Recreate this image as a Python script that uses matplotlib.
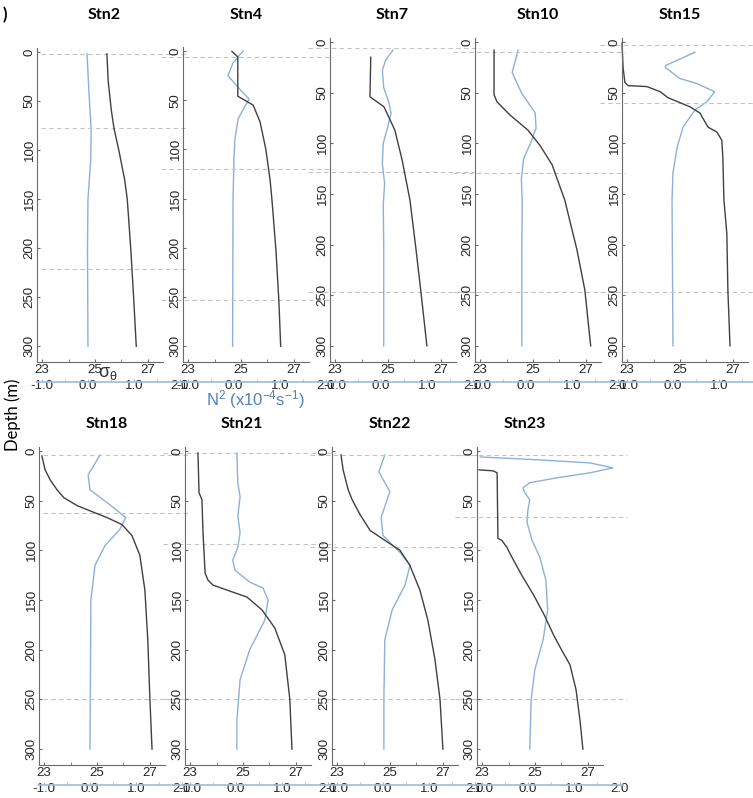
import matplotlib
matplotlib.use('Agg')
import matplotlib.pyplot as plt
from matplotlib.ticker import MultipleLocator, FormatStrFormatter
from matplotlib.transforms import blended_transform_factory

plt.rcParams['font.family'] = ['Liberation Sans', 'DejaVu Sans']
plt.rcParams['axes.unicode_minus'] = False
plt.rcParams['mathtext.default'] = 'regular'

stations = ['Stn2', 'Stn4', 'Stn7', 'Stn10', 'Stn15', 'Stn18', 'Stn21', 'Stn22', 'Stn23']

# sigma-theta profiles: depth (m) and sigma_theta
stn2_sz = [2, 30, 60, 78, 100, 130, 150, 200, 250, 300]
stn2_sig = [25.45, 25.5, 25.62, 25.72, 25.9, 26.12, 26.22, 26.35, 26.46, 26.56]
stn4_sz = [0.5, 6, 46, 55, 72, 100, 131, 151, 202, 253, 300]
stn4_sig = [24.66, 24.88, 24.88, 25.46, 25.72, 25.94, 26.1, 26.17, 26.32, 26.43, 26.5]
stn7_sz = [15, 54, 64, 87, 116, 156, 205, 255, 300]
stn7_sig = [24.35, 24.32, 24.85, 25.26, 25.53, 25.83, 26.06, 26.28, 26.47]
stn10_sz = [8, 52, 59, 72, 87, 102, 121, 156, 205, 245, 300]
stn10_sig = [23.53, 23.53, 23.64, 24.13, 24.81, 25.26, 25.72, 26.2, 26.66, 26.96, 27.18]
stn15_sz = [1, 25, 40, 43, 44, 49, 55, 64, 70, 84, 89, 97, 114, 156, 189, 245, 300]
stn15_sig = [22.81, 22.85, 22.92, 23.04, 23.75, 24.25, 24.55, 25.38, 25.75, 26.06, 26.4,
             26.58, 26.62, 26.66, 26.77, 26.81, 26.89]
stn18_sz = [5, 19, 29, 39, 47, 55, 61, 67, 74, 85, 105, 140, 190, 250, 300]
stn18_sig = [22.92, 23.04, 23.23, 23.49, 23.75, 24.25, 24.81, 25.38, 25.94, 26.32, 26.62,
             26.81, 26.92, 27.0, 27.08]
stn21_sz = [2, 42, 49, 82, 123, 130, 135, 140, 147, 160, 178, 205, 250, 300]
stn21_sig = [23.3, 23.34, 23.45, 23.49, 23.57, 23.68, 23.87, 24.4, 25.15, 25.72, 26.2,
             26.58, 26.77, 26.85]
stn22_sz = [4, 19, 39, 49, 64, 80, 90, 100, 115, 140, 170, 210, 250, 300]
stn22_sig = [23.15, 23.23, 23.42, 23.57, 23.87, 24.25, 24.81, 25.38, 25.75, 26.13, 26.43,
             26.7, 26.89, 27.0]
stn23_sz = [19, 20, 22, 88, 90, 97, 107, 125, 145, 165, 185, 200, 215, 240, 271, 300]
stn23_sig = [22.89, 23.42, 23.57, 23.6, 23.75, 23.94, 24.13, 24.5, 24.95, 25.35, 25.7,
             26.0, 26.32, 26.55, 26.7, 26.81]

# N2 profiles: depth (m) and N2 (x10^-4 s^-1)
stn2_nz = [2, 40, 80, 110, 130, 150, 200, 300]
stn2_n2 = [-0.02, 0.02, 0.07, 0.06, 0.03, 0.0, -0.01, 0.0]
stn4_nz = [0, 12, 25, 37, 49, 58, 69, 90, 110, 150, 300]
stn4_n2 = [0.2, -0.02, -0.13, 0.09, 0.33, 0.22, 0.09, 0.02, 0.0, -0.02, -0.03]
stn7_nz = [8, 18, 28, 45, 58, 70, 85, 100, 120, 140, 160, 200, 300]
stn7_n2 = [0.26, 0.1, 0.03, 0.06, 0.16, 0.22, 0.14, 0.05, 0.03, 0.08, 0.05, 0.06, 0.06]
stn10_nz = [8, 30, 50, 70, 85, 100, 115, 135, 160, 200, 300]
stn10_n2 = [-0.17, -0.3, -0.1, 0.2, 0.22, 0.1, -0.05, -0.1, -0.08, -0.09, -0.09]
stn15_nz = [10, 23, 25, 36, 41, 49, 59, 67, 84, 104, 129, 156, 300]
stn15_n2 = [0.48, -0.15, -0.17, 0.15, 0.52, 0.91, 0.74, 0.48, 0.22, 0.09, 0.0, -0.02, 0.0]
stn18_nz = [4, 24, 39, 54, 67, 79, 95, 115, 150, 300]
stn18_n2 = [0.22, -0.04, 0.0, 0.43, 0.78, 0.65, 0.33, 0.11, 0.02, 0.0]
stn21_nz = [2, 32, 46, 66, 82, 97, 110, 120, 132, 138, 150, 170, 200, 230, 271, 300]
stn21_n2 = [0.02, 0.04, 0.09, 0.04, 0.09, 0.04, -0.07, -0.02, 0.3, 0.59, 0.7, 0.63, 0.3,
            0.09, 0.02, 0.02]
stn22_nz = [4, 21, 41, 67, 85, 102, 115, 135, 160, 190, 250, 300]
stn22_n2 = [0.04, -0.09, 0.15, -0.04, 0.0, 0.37, 0.59, 0.48, 0.2, 0.04, 0.02, 0.02]
stn23_nz = [6, 9, 12, 17, 22, 27, 32, 37, 42, 49, 59, 72, 90, 107, 130, 160, 190, 220, 250, 300]
stn23_n2 = [-1.04, 0.26, 1.35, 1.85, 1.35, 0.63, 0.04, -0.11, -0.07, 0.04, 0.0, -0.02, 0.09,
            0.26, 0.39, 0.43, 0.33, 0.15, 0.07, 0.04]

# reference depths (dashed lines)
stn2_ref = [2, 78, 221]
stn4_ref = [6, 120, 253]
stn7_ref = [6, 128, 247]
stn10_ref = [10, 129, 247]
stn15_ref = [3, 60, 247]
stn18_ref = [4, 62, 250]
stn21_ref = [2, 94, 250]
stn22_ref = [4, 97, 250]
stn23_ref = [4, 66, 250]

sig_z = [stn2_sz, stn4_sz, stn7_sz, stn10_sz, stn15_sz, stn18_sz, stn21_sz, stn22_sz, stn23_sz]
sig = [stn2_sig, stn4_sig, stn7_sig, stn10_sig, stn15_sig, stn18_sig, stn21_sig, stn22_sig, stn23_sig]
n2_z = [stn2_nz, stn4_nz, stn7_nz, stn10_nz, stn15_nz, stn18_nz, stn21_nz, stn22_nz, stn23_nz]
n2 = [stn2_n2, stn4_n2, stn7_n2, stn10_n2, stn15_n2, stn18_n2, stn21_n2, stn22_n2, stn23_n2]
refs = [stn2_ref, stn4_ref, stn7_ref, stn10_ref, stn15_ref, stn18_ref, stn21_ref, stn22_ref, stn23_ref]

W, H = 753, 798
fig = plt.figure(figsize=(W / 100, H / 100), dpi=100)


def box(x0, y0, x1, y1):
    return [x0 / W, 1 - y1 / H, (x1 - x0) / W, (y1 - y0) / H]


lefts = [37, 183, 330, 475, 622, 39, 185, 332, 477]
tops = [48, 47, 38, 38, 38, 447, 447, 447, 447]
bots = [362] * 5 + [765] * 4
title_x = [104, 246, 392, 538, 680, 107, 242, 390, 525]
title_y = [15] * 5 + [424] * 4

black = '#404040'
blue = '#8DB0DB'
axblue = '#9DBBDF'
dash_c = '#C4C4C4'

for i, name in enumerate(stations):
    L, T, B = lefts[i], tops[i], bots[i]
    axn = fig.add_axes(box(L, T, L + 146, B))
    ax = fig.add_axes(box(L, T, L + 126, B), sharey=axn)

    # N2 axis (lower, blue)
    axn.patch.set_alpha(0)
    for s in ['top', 'right', 'left']:
        axn.spines[s].set_visible(False)
    axn.spines['bottom'].set_position(('outward', 14.4))
    axn.spines['bottom'].set_color(axblue)
    axn.spines['bottom'].set_linewidth(1.2)
    axn.set_xlim(-1.11, 2.07)
    axn.xaxis.set_major_locator(MultipleLocator(1))
    axn.xaxis.set_minor_locator(MultipleLocator(0.5))
    axn.xaxis.set_major_formatter(FormatStrFormatter('%.1f'))
    axn.tick_params(axis='x', which='both', direction='in', length=2.5, color=axblue,
                    pad=-1.5, labelsize=9.5, labelcolor='#262626')
    axn.tick_params(axis='y', left=False, labelleft=False)
    axn.plot(n2[i], n2_z[i], color=blue, lw=1.0, clip_on=False)

    tr = blended_transform_factory(axn.transAxes, axn.transData)
    x0 = 4 / 146 if L < 60 else -22 / 146
    for d in refs[i]:
        axn.plot([x0, 150 / 146], [d, d], transform=tr, ls=(0, (4, 3)), color=dash_c,
                 lw=0.8, clip_on=False)

    # sigma-theta axis
    ax.patch.set_alpha(0)
    ax.spines['top'].set_visible(False)
    ax.spines['right'].set_visible(False)
    ax.spines['left'].set_color('#6a6a6a')
    ax.spines['bottom'].set_color('#6a6a6a')
    ax.set_xlim(22.81, 27.57)
    ax.set_xticks([23, 25, 27])
    ax.xaxis.set_minor_locator(MultipleLocator(1))
    ax.set_ylim(316, -4)
    ax.set_yticks(range(0, 301, 50))
    ax.tick_params(axis='x', which='both', direction='in', length=2.5, color='#6a6a6a',
                   pad=1.5, labelsize=9.5, labelcolor='#262626')
    ax.tick_params(axis='y', direction='in', length=2, color='#6a6a6a', pad=1,
                   labelsize=9.5, labelcolor='#262626', labelrotation=90)
    for lab in ax.get_yticklabels():
        lab.set_va('center')
    ax.plot(sig[i], sig_z[i], color=black, lw=1.0, clip_on=False)

    fig.text(title_x[i] / W, 1 - title_y[i] / H, name, ha='center', va='center',
             fontsize=11.5, fontweight='bold', family=['Lato', 'DejaVu Sans'])

fig.text(3 / W, 1 - 15 / H, ')', ha='left', va='center', fontsize=12, fontweight='bold',
         family=['Lato', 'DejaVu Sans'])
fig.text(13 / W, 1 - 415 / H, 'Depth (m)', rotation=90, ha='center', va='center',
         fontsize=12, family=['Lato', 'DejaVu Sans'])
fig.text(108 / W, 1 - 374 / H, r'$\sigma_\theta$', ha='center', va='center', fontsize=13,
         color='#333333')
fig.text(255 / W, 1 - 400 / H, r'N$^2$ (x10$^{-4}$s$^{-1}$)', ha='center', va='center',
         fontsize=12, color='#4F81BD')

fig.savefig('out.png', dpi=100)
